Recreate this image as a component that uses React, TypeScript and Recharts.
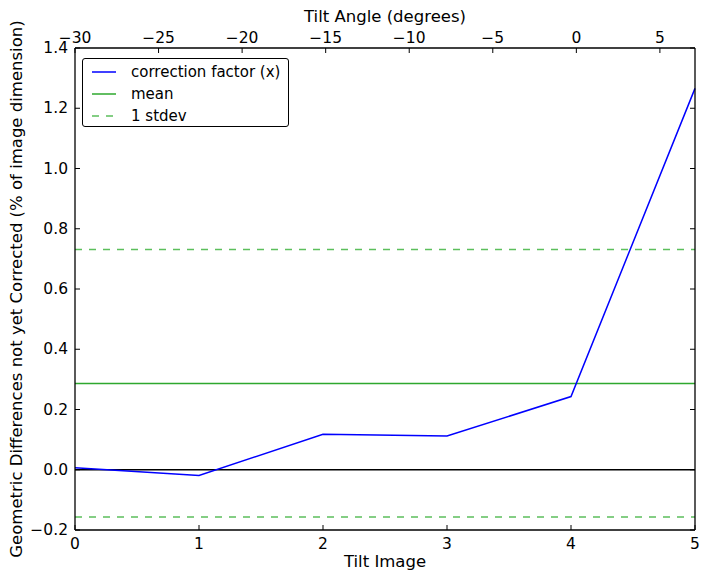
import React from 'react'
import {
  LineChart,
  Line,
  XAxis,
  YAxis,
  ReferenceLine,
  Legend,
  Label
} from 'recharts'

const tiltImages = [0, 1, 2, 3, 4, 5]
const correctionFactor = [0.007, -0.019, 0.118, 0.112, 0.243, 1.266]
const meanValue = 0.286
const stdevUpper = 0.731
const stdevLower = -0.157
const yTicks = [-0.2, 0.0, 0.2, 0.4, 0.6, 0.8, 1.0, 1.2, 1.4]
const angleTicks = [-30, -25, -20, -15, -10, -5, 0, 5]

const data = tiltImages.map((image, i) => ({ image, corr: correctionFactor[i] }))

const W = 708
const H = 579
const LEFT = 75
const RIGHT = 695
const TOP = 48
const BOTTOM = 530
const FONT = 'DejaVu Sans, sans-serif'
const TICK = 5
const MEAN_GREEN = '#2ea82e'
const DASH_GREEN = '#5cbf5c'

const fmt = (v: number, digits: number) => {
  const s = Math.abs(v).toFixed(digits)
  return v < 0 ? '\u2212' + s : s
}

const LeftTick = (props: any) => {
  const { y, payload } = props
  return (
    <g>
      <line x1={LEFT} x2={LEFT + TICK} y1={y} y2={y} stroke="#000" />
      <text x={LEFT - 7} y={y} textAnchor="end" dominantBaseline="central" fontSize={15.5} fontFamily={FONT} fill="#000">
        {fmt(payload.value, 1)}
      </text>
    </g>
  )
}

const RightTick = (props: any) => {
  const { y } = props
  return <line x1={RIGHT - TICK} x2={RIGHT} y1={y} y2={y} stroke="#000" />
}

const BottomTick = (props: any) => {
  const { x, payload } = props
  return (
    <g>
      <line x1={x} x2={x} y1={BOTTOM} y2={BOTTOM - TICK} stroke="#000" />
      <text x={x} y={BOTTOM + 19} textAnchor="middle" fontSize={15.5} fontFamily={FONT} fill="#000">
        {fmt(payload.value, 0)}
      </text>
    </g>
  )
}

const TopTick = (props: any) => {
  const { x, payload } = props
  return (
    <g>
      <line x1={x} x2={x} y1={TOP} y2={TOP + TICK} stroke="#000" />
      <text x={x} y={TOP - 5} textAnchor="middle" fontSize={15.5} fontFamily={FONT} fill="#000">
        {fmt(payload.value, 0)}
      </text>
    </g>
  )
}

const legendItems = [
  { name: 'correction factor (x)', color: '#0000ff', dash: undefined },
  { name: 'mean', color: MEAN_GREEN, dash: undefined },
  { name: '1 stdev', color: DASH_GREEN, dash: '7 7' }
]

const LegendBox = () => (
  <div
    style={{
      width: 207,
      height: 69,
      border: '1px solid #000',
      borderRadius: 3,
      background: '#fff',
      fontFamily: FONT,
      fontSize: 15,
      boxSizing: 'border-box',
      paddingTop: 2
    }}
  >
    {legendItems.map((it) => (
      <div key={it.name} style={{ display: 'flex', alignItems: 'center', height: 22 }}>
        <svg width={48} height={10} style={{ flex: 'none' }}>
          <line x1={9} x2={33} y1={5} y2={5} stroke={it.color} strokeWidth={1.5} strokeDasharray={it.dash} />
        </svg>
        <span>{it.name}</span>
      </div>
    ))}
  </div>
)

export default function App () {
  return (
    <div style={{ position: 'absolute', left: 0, top: 0, width: W, height: H, background: '#fff' }}>
      <LineChart width={W} height={H} data={data} margin={{ top: 0, right: 0, bottom: 0, left: 0 }}>
        <XAxis
          xAxisId="bottom"
          dataKey="image"
          type="number"
          domain={[0, 5]}
          ticks={tiltImages}
          height={49}
          axisLine={{ stroke: '#000', strokeWidth: 1.3 }}
          tickLine={false}
          tick={<BottomTick />}
          interval={0}
        >
          <Label
            content={() => (
              <text x={(LEFT + RIGHT) / 2} y={567} textAnchor="middle" fontSize={16.5} fontFamily={FONT} fill="#000">
                Tilt Image
              </text>
            )}
          />
        </XAxis>
        <XAxis
          xAxisId="top"
          dataKey="image"
          orientation="top"
          type="number"
          domain={[-30, 7.1]}
          ticks={angleTicks}
          allowDataOverflow
          height={48}
          axisLine={{ stroke: '#000', strokeWidth: 1.3 }}
          tickLine={false}
          tick={<TopTick />}
          interval={0}
        >
          <Label
            content={() => (
              <text x={(LEFT + RIGHT) / 2} y={22} textAnchor="middle" fontSize={16.5} fontFamily={FONT} fill="#000">
                Tilt Angle (degrees)
              </text>
            )}
          />
        </XAxis>
        <YAxis
          yAxisId="left"
          type="number"
          domain={[-0.2, 1.4]}
          ticks={yTicks}
          width={75}
          axisLine={{ stroke: '#000', strokeWidth: 1.3 }}
          tickLine={false}
          tick={<LeftTick />}
          interval={0}
        >
          <Label
            content={() => (
              <text
                x={22}
                y={(TOP + BOTTOM) / 2}
                textAnchor="middle"
                fontSize={16.5}
                fontFamily={FONT}
                fill="#000"
                transform={`rotate(-90 22 ${(TOP + BOTTOM) / 2})`}
              >
                Geometric Differences not yet Corrected (% of image dimension)
              </text>
            )}
          />
        </YAxis>
        <YAxis
          yAxisId="right"
          orientation="right"
          type="number"
          domain={[-0.2, 1.4]}
          ticks={yTicks}
          width={13}
          axisLine={{ stroke: '#000', strokeWidth: 1.3 }}
          tickLine={false}
          tick={<RightTick />}
          interval={0}
        />
        <ReferenceLine xAxisId="bottom" yAxisId="left" y={stdevUpper} stroke={DASH_GREEN} strokeWidth={1.5} strokeDasharray="7 7" />
        <ReferenceLine xAxisId="bottom" yAxisId="left" y={stdevLower} stroke={DASH_GREEN} strokeWidth={1.5} strokeDasharray="7 7" />
        <ReferenceLine xAxisId="bottom" yAxisId="left" y={meanValue} stroke={MEAN_GREEN} strokeWidth={1.5} />
        <ReferenceLine xAxisId="bottom" yAxisId="left" y={0} stroke="#000" strokeWidth={1.5} />
        <Line
          xAxisId="top"
          yAxisId="right"
          dataKey="corr"
          stroke="none"
          dot={false}
          legendType="none"
          isAnimationActive={false}
        />
        <Line
          xAxisId="bottom"
          yAxisId="left"
          dataKey="corr"
          name="correction factor (x)"
          stroke="#0000ff"
          strokeWidth={1.5}
          dot={false}
          isAnimationActive={false}
        />
        <Legend
          layout="horizontal"
          verticalAlign="middle"
          align="center"
          content={<LegendBox />}
          wrapperStyle={{ position: 'absolute', top: 58, left: 82, width: 'auto' }}
        />
      </LineChart>
    </div>
  )
}
